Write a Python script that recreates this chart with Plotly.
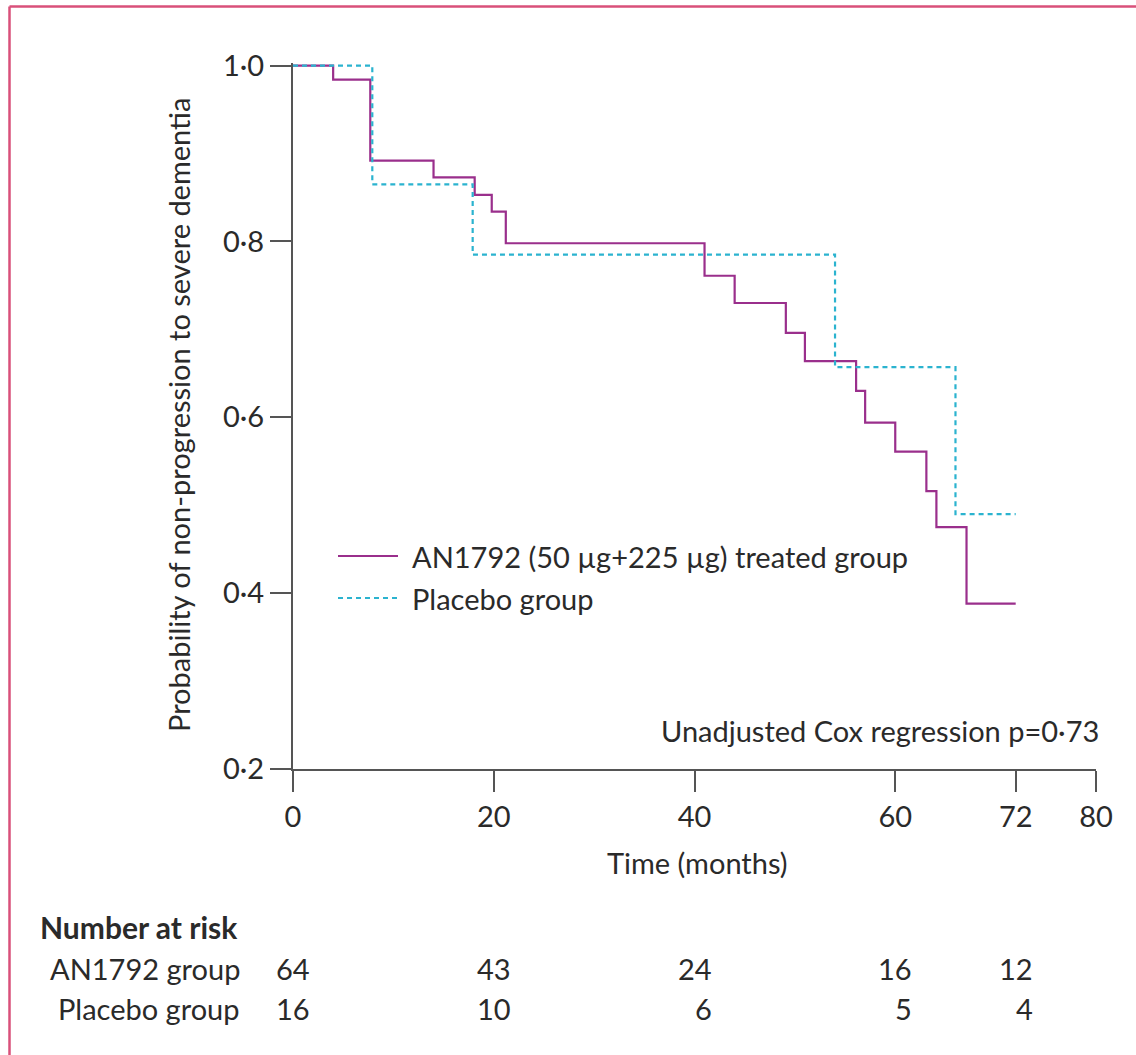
import plotly.graph_objects as go

# Kaplan-Meier estimates: step times (months) and survival probabilities
treated_time = [0, 4, 7.7, 14, 18.1, 19.8, 21.2, 41, 44, 49.1, 51, 56.1, 57, 60, 63.1, 64.1, 67.1, 72]
treated_surv = [1.0, 0.984, 0.892, 0.873, 0.853, 0.834, 0.798, 0.761, 0.730, 0.696, 0.664,
                0.630, 0.594, 0.561, 0.516, 0.475, 0.388, 0.388]

placebo_time = [0, 7.9, 17.9, 54, 66, 72]
placebo_surv = [1.0, 0.865, 0.785, 0.657, 0.490, 0.490]

# Number at risk table
risk_times = [0, 20, 40, 60, 72]
risk_treated = [64, 43, 24, 16, 12]
risk_placebo = [16, 10, 6, 5, 4]

x_ticks = [0, 20, 40, 60, 72, 80]
y_ticks = [0.2, 0.4, 0.6, 0.8, 1.0]
y_tick_text = ["0·2", "0·4", "0·6", "0·8", "1·0"]

W, H = 1136, 1055
ML, MR, MT, MB = 293, 40, 63, 286
PW, PH = W - ML - MR, H - MT - MB

FONT = "Lato"
TXT = "#2a2a2a"
AXC = "#555555"
PURPLE = "#9a2f8c"
CYAN = "#2bb3cf"
FS = 29


def px(x):
    return (x - ML) / PW


def py(y):
    return (H - MB - y) / PH


fig = go.Figure()
fig.add_trace(go.Scatter(x=treated_time, y=treated_surv, mode="lines", line_shape="hv",
                         line=dict(color=PURPLE, width=2.2), showlegend=False))
fig.add_trace(go.Scatter(x=placebo_time, y=placebo_surv, mode="lines", line_shape="hv",
                         line=dict(color=CYAN, width=2.2, dash="5px,4px"), showlegend=False))

ann = []
shapes = []

# legend
shapes.append(dict(type="line", xref="paper", yref="paper", x0=px(338), x1=px(398), y0=py(556), y1=py(556),
                   line=dict(color=PURPLE, width=2.2)))
shapes.append(dict(type="line", xref="paper", yref="paper", x0=px(338), x1=px(398), y0=py(598), y1=py(598),
                   line=dict(color=CYAN, width=2.2, dash="5px,4px")))
ann.append(dict(text="AN1792 (50 µg+225 µg) treated group", xref="paper", yref="paper", x=px(410), y=py(556),
                xanchor="left", yanchor="middle", showarrow=False, font=dict(size=FS, color=TXT)))
ann.append(dict(text="Placebo group", xref="paper", yref="paper", x=px(410), y=py(598),
                xanchor="left", yanchor="middle", showarrow=False, font=dict(size=FS, color=TXT)))

ann.append(dict(text="Unadjusted Cox regression p=0·73", xref="paper", yref="paper", x=px(1101), y=py(730),
                xanchor="right", yanchor="middle", showarrow=False, font=dict(size=FS, color=TXT)))

# axis titles
ann.append(dict(text="Probability of non-progression to severe dementia", xref="paper", yref="paper",
                x=px(178), y=py(415), textangle=-90, xanchor="center", yanchor="middle", showarrow=False,
                font=dict(size=FS, color=TXT)))
ann.append(dict(text="Time (months)", xref="paper", yref="paper", x=px(697), y=py(862),
                xanchor="center", yanchor="middle", showarrow=False, font=dict(size=FS, color=TXT)))

# number at risk table
ann.append(dict(text="<b>Number at risk</b>", xref="paper", yref="paper", x=px(38), y=py(927),
                xanchor="left", yanchor="middle", showarrow=False, font=dict(size=FS + 1, color=TXT)))
ann.append(dict(text="AN1792 group", xref="paper", yref="paper", x=px(242), y=py(968),
                xanchor="right", yanchor="middle", showarrow=False, font=dict(size=FS, color=TXT)))
ann.append(dict(text="Placebo group", xref="paper", yref="paper", x=px(242), y=py(1008),
                xanchor="right", yanchor="middle", showarrow=False, font=dict(size=FS, color=TXT)))
for t, a, b in zip(risk_times, risk_treated, risk_placebo):
    ann.append(dict(text=str(a), xref="x", yref="paper", x=t, y=py(968), xshift=19,
                    xanchor="right", yanchor="middle", showarrow=False, font=dict(size=FS, color=TXT)))
    ann.append(dict(text=str(b), xref="x", yref="paper", x=t, y=py(1008), xshift=19,
                    xanchor="right", yanchor="middle", showarrow=False, font=dict(size=FS, color=TXT)))

# frame around the figure (left and top edges)
BORDER = "#d9507a"
shapes.append(dict(type="line", xref="paper", yref="paper", x0=px(9.5), x1=px(9.5), y0=py(6.5), y1=py(H + 20),
                   line=dict(color=BORDER, width=2.5)))
shapes.append(dict(type="line", xref="paper", yref="paper", x0=px(9.5), x1=px(W + 20), y0=py(6.5), y1=py(6.5),
                   line=dict(color=BORDER, width=2.5)))

fig.update_layout(
    width=W, height=H,
    margin=dict(l=ML, r=MR, t=MT, b=MB, pad=0),
    paper_bgcolor="white", plot_bgcolor="white",
    font=dict(family=FONT, size=FS, color=TXT),
    showlegend=False,
    annotations=ann,
    shapes=shapes,
    xaxis=dict(range=[0, 80], tickvals=x_ticks, ticks="outside", ticklen=21, tickwidth=2, tickcolor=AXC,
               showline=True, linecolor=AXC, linewidth=2, showgrid=False, zeroline=False,
               tickfont=dict(size=FS, color=TXT)),
    yaxis=dict(range=[0.2, 1.003], tickvals=y_ticks, ticktext=y_tick_text, ticks="outside", ticklen=21,
               tickwidth=2, tickcolor=AXC, showline=True, linecolor=AXC, linewidth=2, showgrid=False,
               zeroline=False, tickfont=dict(size=FS, color=TXT)),
)

fig.write_html("out.html")
